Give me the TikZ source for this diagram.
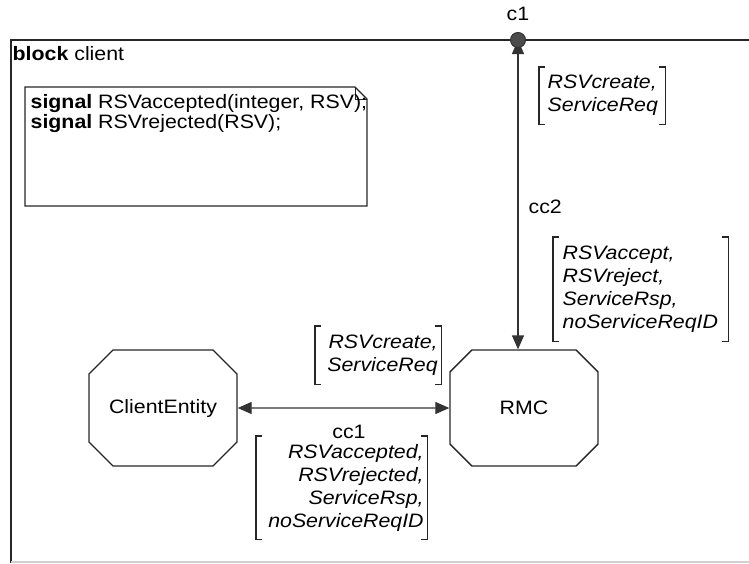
\documentclass[tikz,border=0pt]{standalone}
\usepackage{fontspec}
\setmainfont{Liberation Sans}[FakeStretch=1.1]
\usetikzlibrary{arrows.meta,shapes.misc}
\newcommand{\sdlbrackets}[1]{%
  \draw[brk] ([xshift=6pt]#1.north west) -- (#1.north west) -- (#1.south west) -- ([xshift=6pt]#1.south west);
  \draw[brk] ([xshift=-6pt]#1.north east) -- (#1.north east) -- (#1.south east) -- ([xshift=-6pt]#1.south east);}
\begin{document}
\begin{tikzpicture}[x=1pt,y=-1pt,
  line width=1.3pt,
  every node/.style={inner sep=0pt, font=\fontsize{19.4}{23}\selectfont},
  frame/.style={line width=2pt, draw=black!85},
  process/.style={draw=black!85, chamfered rectangle, chamfered rectangle xsep=15pt,
     chamfered rectangle ysep=15pt, minimum width=148pt, minimum height=116pt},
  chan/.style={draw=black!80, line width=1.3pt,
     {Triangle[length=14pt,width=12pt]}-{Triangle[length=14pt,width=12pt]}},
  gate/.style={circle, draw=black!80, fill=black!70, minimum size=15pt, line width=1pt},
  sig/.style={font=\fontsize{19.4}{23}\selectfont\itshape, minimum height=#1, inner ysep=0pt},
  brk/.style={line width=1.2pt, draw=black!85},
  plain/.style={font=\fontsize{19.4}{23}\selectfont}
]
\useasboundingbox (0,0) rectangle (749,563);
% frame
\draw[frame] (749,40) -- (11,40) -- (11,563);
\draw[line width=2pt, draw=black!18] (11,562) -- (749,562);
\node[plain, anchor=base west] (title) at (12,60) {\textbf{block} client};
% declaration text symbol
\draw[line width=1.3pt, draw=black!85] (25,87) -- (355,87) -- (367,99) -- (367,206) -- (25,206) -- cycle;
\draw[line width=1pt, draw=black!85] (355,87) -- (355,99) -- (367,99);
\node[anchor=north west, align=left, font=\fontsize{19.4}{19.5}\selectfont] (decl) at (30,94)
  {\textbf{signal} RSVaccepted(integer, RSV);\\ \textbf{signal} RSVrejected(RSV);};
% processes
\node[process] (ce) at (163,408) {ClientEntity};
\node[process] (rmc) at (524,408) {RMC};
% gate and channels
\coordinate (c1) at (518,40);
\draw[chan] (ce) -- (rmc);
\draw[chan] (c1) -- (c1 |- rmc.north);
\node[gate] (c1gate) at (c1) {};
\node[plain, anchor=base] (c1lbl) at (518,20) {c1};
\node[plain, anchor=base west] (cc2) at (528,213) {cc2};
\node[plain, anchor=base] (cc1) at (349,438) {cc1};
% signal lists
\node[sig=56pt, anchor=north west, text width=109pt, inner xsep=8pt, align=left] (s1) at (539,67)
  {RSVcreate,\\ServiceReq};
\node[sig=103pt, anchor=north west, text width=156pt, inner xsep=9pt, align=left] (s2) at (553,237)
  {RSVaccept,\\RSVreject,\\ServiceRsp,\\noServiceReqID};
\node[sig=57pt, anchor=north west, text width=119pt, inner xsep=3pt, align=right] (s3) at (315,326)
  {RSVcreate,\\ServiceReq};
\node[sig=102pt, anchor=north west, text width=164pt, inner xsep=3pt, align=right] (s4) at (256,436)
  {RSVaccepted,\\RSVrejected,\\ServiceRsp,\\noServiceReqID};
\sdlbrackets{s1}
\sdlbrackets{s2}
\sdlbrackets{s3}
\sdlbrackets{s4}
\end{tikzpicture}
\end{document}
